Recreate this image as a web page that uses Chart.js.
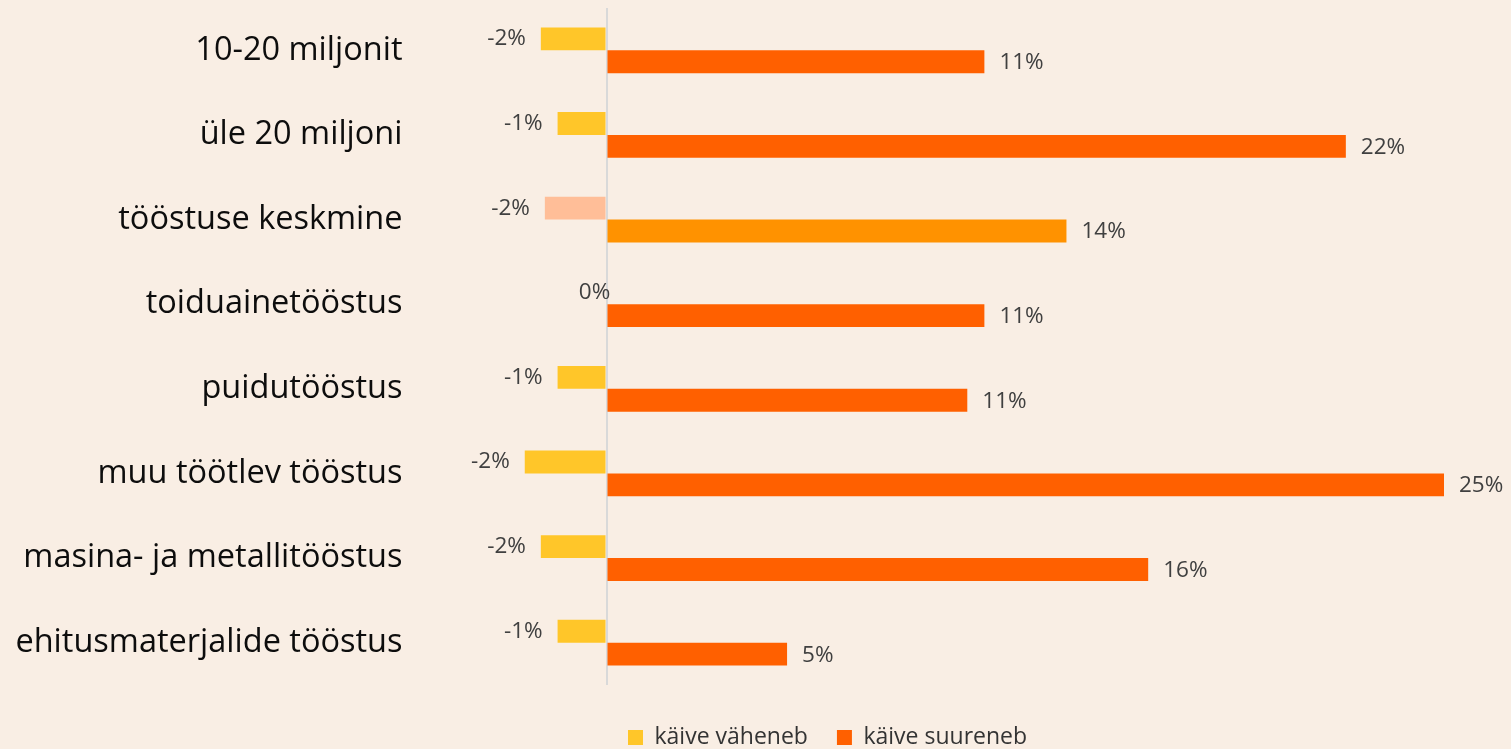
<!DOCTYPE html>
<html lang="et">
<head>
<meta charset="utf-8">
<title>Käive</title>
<script src="https://cdn.jsdelivr.net/npm/chart.js@4.4.1/dist/chart.umd.min.js"></script>
<style>
    html, body { margin: 0; padding: 0; background: #F9EEE4; }
    #chart { display: block; }
</style>
</head>
<body>
<canvas id="chart" width="1511" height="749"></canvas>
<script>
// Andmed (loetud jooniselt)
const kategooriad = [
    '10-20 miljonit',
    'üle 20 miljoni',
    'tööstuse keskmine',
    'toiduainetööstus',
    'puidutööstus',
    'muu töötlev tööstus',
    'masina- ja metallitööstus',
    'ehitusmaterjalide tööstus'
];
const seeriaNimed = ['käive väheneb', 'käive suureneb'];
const kaiveVaheneb = [-1.96, -1.46, -1.84, 0, -1.46, -2.44, -1.96, -1.46];
const kaiveSuureneb = [11.28, 22.07, 13.73, 11.28, 10.77, 25.0, 16.17, 5.39];

// Värvid
const kollane = '#FFC629';
const oranz = '#FF6000';
const keskmineNeg = '#FFBE98';
const keskminePos = '#FF9200';
const vaheneVarvid = kategooriad.map((k, i) => i === 2 ? keskmineNeg : kollane);
const suureneVarvid = kategooriad.map((k, i) => i === 2 ? keskminePos : oranz);

// väärtuste sildid ribade otstes
const vaartusSildid = {
    id: 'vaartusSildid',
    afterDraw(chart) {
        const ctx = chart.ctx;
        ctx.save();
        ctx.font = '22.5px "Open Sans"';
        ctx.fillStyle = '#404040';
        ctx.textBaseline = 'middle';
        chart.data.datasets.forEach((ds, i) => {
            chart.getDatasetMeta(i).data.forEach((bar, j) => {
                const v = ds.data[j];
                const tekst = Math.round(v) + '%';
                if (v < 0) {
                    ctx.textAlign = 'right';
                    ctx.fillText(tekst, bar.x - 15, bar.y);
                } else if (v > 0) {
                    ctx.textAlign = 'left';
                    ctx.fillText(tekst, bar.x + 15, bar.y + 1);
                } else {
                    ctx.textAlign = 'center';
                    ctx.fillText(tekst, bar.x - 12, bar.y);
                }
            });
        });
        ctx.restore();
    }
};

// legend veidi paremale ja alla, nagu originaalis
const legendiNihe = {
    id: 'legendiNihe',
    afterLayout(chart) {
        if (chart.legend) chart.legend._nihutatud = false;
    },
    beforeDraw(chart) {
        const leg = chart.legend;
        if (!leg || leg._nihutatud || !leg.legendHitBoxes.length) return;
        const hb = leg.legendHitBoxes[0];
        const dx = 628 - hb.left;
        const dy = 737.5 - (hb.top + hb.height / 2);
        leg.left += dx;
        leg.right += dx;
        leg.top += dy;
        leg.bottom += dy;
        leg._nihutatud = true;
    }
};

new Chart(document.getElementById('chart'), {
    type: 'bar',
    data: {
        labels: kategooriad,
        datasets: [
            {
                label: seeriaNimed[0],
                data: kaiveVaheneb,
                backgroundColor: vaheneVarvid,
                borderWidth: 0,
                categoryPercentage: 0.54,
                barPercentage: 1.0
            },
            {
                label: seeriaNimed[1],
                data: kaiveSuureneb,
                backgroundColor: suureneVarvid,
                borderWidth: 0,
                categoryPercentage: 0.54,
                barPercentage: 1.0
            }
        ]
    },
    options: {
        indexAxis: 'y',
        responsive: false,
        animation: false,
        layout: {
            padding: { top: 8, right: 67, bottom: 2, left: 0 }
        },
        plugins: {
            tooltip: { enabled: false },
            legend: {
                position: 'bottom',
                labels: {
                    boxWidth: 15,
                    boxHeight: 15,
                    padding: 29,
                    color: '#333333',
                    font: { family: '"Open Sans"', size: 23 }
                }
            }
        },
        scales: {
            x: {
                min: -6,
                max: 25,
                z: 1,
                ticks: { display: false, stepSize: 1 },
                border: { display: false },
                grid: {
                    drawTicks: false,
                    lineWidth: 2,
                    color: (c) => c.tick && c.tick.value === 0 ? '#D9D9D9' : 'rgba(0,0,0,0)'
                },
                afterFit(scale) {
                    scale.height = 0;
                    scale.paddingLeft = 0;
                    scale.paddingRight = 0;
                }
            },
            y: {
                grid: { display: false, drawTicks: false },
                border: { display: false },
                ticks: {
                    padding: 3,
                    color: '#0d0d0d',
                    font: { family: '"Open Sans"', size: 32.5 }
                },
                afterFit(scale) {
                    scale.width = 405.5;
                    scale.paddingTop = 0;
                    scale.paddingBottom = 0;
                }
            }
        }
    },
    plugins: [vaartusSildid, legendiNihe]
});
</script>
</body>
</html>
